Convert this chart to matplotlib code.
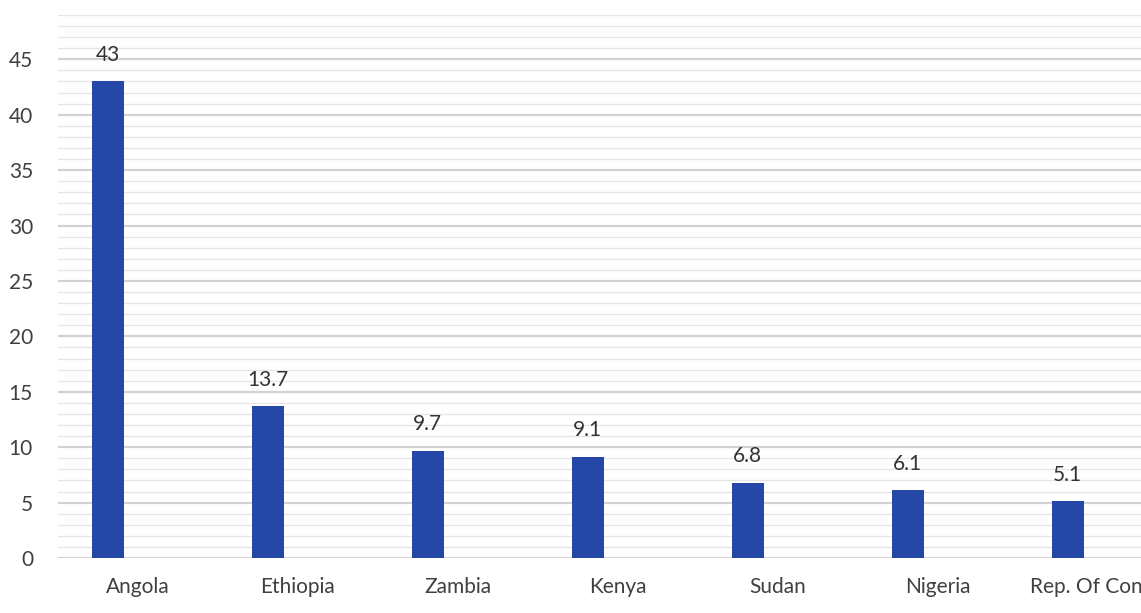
import numpy as np
import matplotlib.pyplot as plt
from matplotlib.ticker import MultipleLocator

countries = ['Angola', 'Ethiopia', 'Zambia', 'Kenya', 'Sudan', 'Nigeria', 'Rep. Of Congo']
values = [43, 13.7, 9.7, 9.1, 6.8, 6.1, 5.1]
value_labels = ['43', '13.7', '9.7', '9.1', '6.8', '6.1', '5.1']

plt.rcParams['font.family'] = ['Lato', 'DejaVu Sans']

fig = plt.figure(figsize=(11.41, 6.13), dpi=100)
# axes runs past the right edge so the last category gets cut off
ax = fig.add_axes([58 / 1141, 55 / 613, 1120 / 1141, 543 / 613])

x = np.arange(len(countries))
bars = ax.bar(x - 0.19, values, width=0.2, color='#2447A8', zorder=3)

for b, lab in zip(bars, value_labels):
    ax.annotate(lab, (b.get_x() + b.get_width() / 2, b.get_height()),
                xytext=(0, 12), textcoords='offset points',
                ha='center', va='bottom', fontsize=15, color='#333333')

ax.set_xlim(-0.5, 6.5)
ax.set_ylim(0, 49)
ax.yaxis.set_minor_locator(MultipleLocator(1))
ax.set_yticks(np.arange(0, 50, 5))
ax.set_xticks(x)
ax.set_xticklabels(countries)

ax.grid(axis='y', which='major', color='#D2D2D2', linewidth=1.6, zorder=0)
ax.grid(axis='y', which='minor', color='#E6E6E6', linewidth=1.0, zorder=0)
ax.tick_params(axis='both', which='both', length=0, labelsize=15, colors='#404040')
ax.tick_params(axis='x', pad=14)
ax.tick_params(axis='y', pad=18)
for s in ax.spines.values():
    s.set_visible(False)

fig.savefig('out.png', dpi=100)
